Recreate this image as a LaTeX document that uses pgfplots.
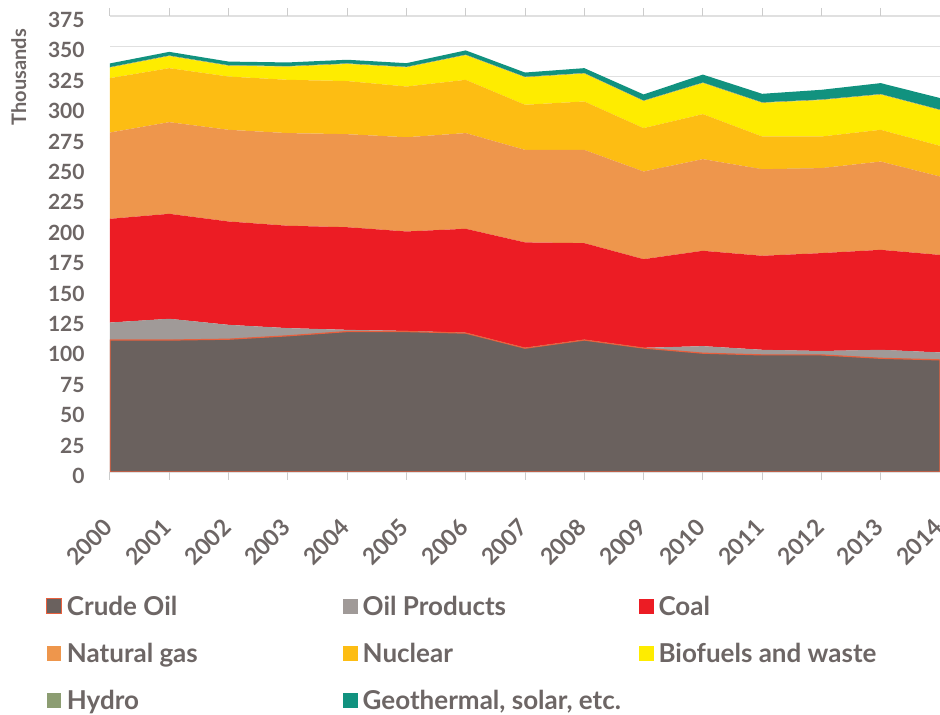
\documentclass[border=0pt]{standalone}
\usepackage{pgfplots}
\pgfplotsset{compat=1.18}
\usepackage{pgfplotstable}
\usepackage{fontspec}
\setmainfont{Lato}
\definecolor{crude}{HTML}{6A615E}
\definecolor{crudeedge}{HTML}{E8603E}
\definecolor{oilprod}{HTML}{A09A98}
\definecolor{coal}{HTML}{EC1C24}
\definecolor{gas}{HTML}{EE964C}
\definecolor{nuclear}{HTML}{FDBD13}
\definecolor{bio}{HTML}{FEEC00}
\definecolor{hydro}{HTML}{8C9D72}
\definecolor{geo}{HTML}{11927F}
\definecolor{txtgrey}{HTML}{6D6665}

\pgfplotstableread{
year crude oilprod coal gas nuclear bio hydro geo
2000 108.5 14.4 85.3 71.0 44.7 8.6 0.5 3.0
2001 108.5 17.5 86.3 75.4 44.4 9.9 0.5 3.0
2002 109.2 11.8 85.0 75.4 43.8 8.8 0.5 3.0
2003 112.0 6.3 84.2 76.2 43.8 10.8 0.5 3.0
2004 115.5 1.4 84.4 76.5 43.7 14.0 0.5 3.0
2005 115.5 0.5 81.8 77.5 41.7 15.7 0.5 3.0
2006 114.2 0.3 85.5 78.7 43.8 20.2 0.5 3.5
2007 101.8 0.3 86.7 76.1 37.1 22.5 0.5 3.5
2008 108.5 0.3 79.4 76.7 39.8 22.9 0.5 4.0
2009 101.9 0.2 72.9 72.1 35.7 22.2 0.5 5.0
2010 97.7 5.8 78.4 75.4 37.0 25.5 0.5 6.5
2011 96.3 4.2 77.3 71.2 26.9 27.6 0.5 7.0
2012 96.3 3.2 80.5 69.9 26.0 29.9 0.5 8.0
2013 93.5 7.0 82.2 72.6 26.1 28.9 0.5 9.0
2014 92.2 6.1 80.2 64.5 25.2 29.3 0.5 9.5
}\datatable

\begin{document}
\begin{tikzpicture}
\path[use as bounding box] (0,0) rectangle (470pt,357.5pt);
\begin{axis}[
  at={(55pt,121.5pt)}, anchor=south west,
  scale only axis, width=415pt, height=228pt,
  xmin=2000, xmax=2014, ymin=0, ymax=375,
  xtick={2000,2001,...,2014}, ytick={0,25,...,375},
  stack plots=y,
  ymajorgrids, grid style={draw=black!12, line width=0.6pt},
  axis line style={draw=none},
  tick align=outside, major tick length=4pt,
  xtick style={draw=black!20, line width=0.5pt},
  ytick style={draw=none},
  /pgf/number format/assume math mode=true,
  /pgf/number format/1000 sep={},
  yticklabel style={font=\bfseries\fontsize{10.5}{12}\selectfont, text=txtgrey, inner sep=0pt, anchor=east, xshift=-8.5pt, yshift=-2pt},
  xticklabel style={font=\bfseries\fontsize{11.5}{13}\selectfont, text=txtgrey, inner sep=0pt, xshift=-0.8pt, yshift=-21.5pt, rotate=45, anchor=east},
  ylabel={Thousands},
  ylabel style={at={(axis description cs:-0.110,0.866)}, anchor=center, font=\bfseries\fontsize{10}{12}\selectfont, text=txtgrey},
  legend columns=3,
  legend cell align=left,
  legend style={draw=none, fill=none, at={(-0.0849,-0.2585)}, anchor=north west,
    nodes={inner sep=0pt}, /tikz/column sep=0pt, /tikz/row sep=11.6pt,
    font=\bfseries\fontsize{13}{15}\selectfont, text=txtgrey},
  legend image code/.code={\path[#1, line width=0.6pt] (0.3pt,-3.7pt) rectangle (7.7pt,3.7pt);},
]
\addplot[fill=crude, draw=crudeedge, line width=0.6pt] table[x=year,y=crude]{\datatable} \closedcycle;
\addlegendentry{\makebox[140.5pt][l]{\hspace*{2.5pt}\rule[-2.5pt]{0pt}{13pt}Crude Oil}}
\addplot[fill=oilprod, draw=none] table[x=year,y=oilprod]{\datatable} \closedcycle;
\addlegendentry{\makebox[140.5pt][l]{\hspace*{2.5pt}\rule[-2.5pt]{0pt}{13pt}Oil Products}}
\addplot[fill=coal, draw=none] table[x=year,y=coal]{\datatable} \closedcycle;
\addlegendentry{\makebox[140.5pt][l]{\hspace*{2.5pt}\rule[-2.5pt]{0pt}{13pt}Coal}}
\addplot[fill=gas, draw=none] table[x=year,y=gas]{\datatable} \closedcycle;
\addlegendentry{\makebox[140.5pt][l]{\hspace*{2.5pt}\rule[-2.5pt]{0pt}{13pt}Natural gas}}
\addplot[fill=nuclear, draw=none] table[x=year,y=nuclear]{\datatable} \closedcycle;
\addlegendentry{\makebox[140.5pt][l]{\hspace*{2.5pt}\rule[-2.5pt]{0pt}{13pt}Nuclear}}
\addplot[fill=bio, draw=none] table[x=year,y=bio]{\datatable} \closedcycle;
\addlegendentry{\makebox[140.5pt][l]{\hspace*{2.5pt}\rule[-2.5pt]{0pt}{13pt}Biofuels and waste}}
\addplot[fill=hydro, draw=none] table[x=year,y=hydro]{\datatable} \closedcycle;
\addlegendentry{\makebox[140.5pt][l]{\hspace*{2.5pt}\rule[-2.5pt]{0pt}{13pt}Hydro}}
\addplot[fill=geo, draw=none] table[x=year,y=geo]{\datatable} \closedcycle;
\addlegendentry{\makebox[140.5pt][l]{\hspace*{2.5pt}\rule[-2.5pt]{0pt}{13pt}Geothermal, solar, etc.}}
\end{axis}
\end{tikzpicture}
\end{document}
